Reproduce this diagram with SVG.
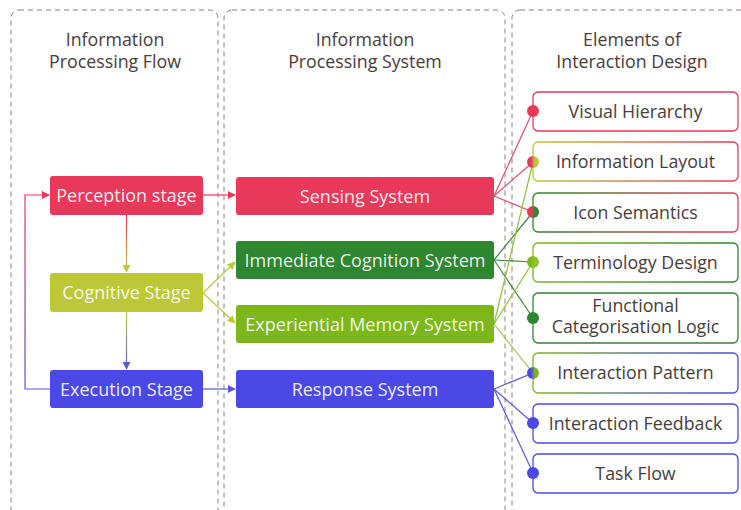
<svg xmlns="http://www.w3.org/2000/svg" width="741" height="510" viewBox="0 0 741 510">
  <defs>
    <style>
      .lane{fill:none;stroke:#8c8282;stroke-width:1;stroke-dasharray:5 4}
      .title{font-family:"Open Sans","Noto Sans","Liberation Sans",sans-serif;font-size:17.8px;fill:#4a3c3c;text-anchor:middle}
      .nl{font-family:"Open Sans","Noto Sans","Liberation Sans",sans-serif;font-size:18px;fill:#fff;fill-opacity:0.9;text-anchor:middle}
      .el{font-family:"Open Sans","Noto Sans","Liberation Sans",sans-serif;font-size:17.8px;fill:#4a3c3c;text-anchor:middle}
      .box{fill:#fff;stroke-width:1.3}
      .lk{fill:none;stroke-width:1.2}
      .pink{fill:#e8395b}
      .ygreen{fill:#bcc83a}
      .dgreen{fill:#2f8631}
      .lgreen{fill:#7db71b}
      .blue{fill:#4b49e6}
    </style>
    <marker id="arPink" viewBox="0 0 10 10" refX="9" refY="5" markerWidth="8" markerHeight="8" markerUnits="userSpaceOnUse" orient="auto"><path d="M0,0 L10,5 L0,10 z" fill="#e8395b"/></marker>
    <marker id="arYg" viewBox="0 0 10 10" refX="9" refY="5" markerWidth="8" markerHeight="8" markerUnits="userSpaceOnUse" orient="auto"><path d="M0,0 L10,5 L0,10 z" fill="#bcc83a"/></marker>
    <marker id="arBlue" viewBox="0 0 10 10" refX="9" refY="5" markerWidth="8" markerHeight="8" markerUnits="userSpaceOnUse" orient="auto"><path d="M0,0 L10,5 L0,10 z" fill="#5a56d8"/></marker>
    <linearGradient id="gPY" gradientUnits="userSpaceOnUse" x1="0" y1="215" x2="0" y2="273"><stop offset="0" stop-color="#e8395b"/><stop offset="1" stop-color="#bcc83a"/></linearGradient>
    <linearGradient id="gYB" gradientUnits="userSpaceOnUse" x1="0" y1="312" x2="0" y2="370"><stop offset="0" stop-color="#bcc83a"/><stop offset="1" stop-color="#5a56d8"/></linearGradient>
    <linearGradient id="gLoop" gradientUnits="userSpaceOnUse" x1="0" y1="389" x2="0" y2="195"><stop offset="0" stop-color="#5a56d8"/><stop offset="1" stop-color="#e8395b"/></linearGradient>
    <!-- two-tone dots -->
    <linearGradient id="dPY"><stop offset="0.35" stop-color="#e8395b"/><stop offset="0.65" stop-color="#bcc83a"/></linearGradient>
    <linearGradient id="dPG"><stop offset="0.35" stop-color="#e8395b"/><stop offset="0.65" stop-color="#2f8631"/></linearGradient>
    <linearGradient id="dGL"><stop offset="0.35" stop-color="#7db71b"/><stop offset="0.65" stop-color="#8fc42a"/></linearGradient>
    <linearGradient id="dBL"><stop offset="0.35" stop-color="#4b49e6"/><stop offset="0.65" stop-color="#7db71b"/></linearGradient>
    <!-- two-tone box borders -->
    <linearGradient id="bYP"><stop offset="0" stop-color="#bcc83a"/><stop offset="1" stop-color="#e8395b"/></linearGradient>
    <linearGradient id="bGP"><stop offset="0" stop-color="#2f8631"/><stop offset="1" stop-color="#e8395b"/></linearGradient>
    <linearGradient id="bLG"><stop offset="0" stop-color="#7db71b"/><stop offset="1" stop-color="#2f8631"/></linearGradient>
    <linearGradient id="bLB"><stop offset="0" stop-color="#7db71b"/><stop offset="1" stop-color="#4b49e6"/></linearGradient>
  </defs>

  <rect width="741" height="510" fill="#fff"/>

  <!-- swimlanes -->
  <g id="lanes">
    <rect class="lane" x="11" y="10" width="207" height="530" rx="8"/>
    <rect class="lane" x="224" y="10" width="281" height="530" rx="8"/>
    <rect class="lane" x="512" y="10" width="240" height="530" rx="8"/>
    <text class="title" x="115" y="46">Information</text>
    <text class="title" x="115" y="68">Processing Flow</text>
    <text class="title" x="365" y="46">Information</text>
    <text class="title" x="365" y="68">Processing System</text>
    <text class="title" x="632" y="46">Elements of</text>
    <text class="title" x="632" y="68">Interaction Design</text>
  </g>

  <!-- connectors -->
  <g id="connectors">
    <line class="lk" x1="126.5" y1="215" x2="126.5" y2="272" stroke="url(#gPY)" marker-end="url(#arYg)"/>
    <line class="lk" x1="126.5" y1="312" x2="126.5" y2="369" stroke="url(#gYB)" marker-end="url(#arBlue)"/>
    <polyline class="lk" points="50,389 25,389 25,195 49,195" stroke="url(#gLoop)" marker-end="url(#arPink)"/>
    <line class="lk" x1="203" y1="195" x2="235" y2="195" stroke="#e8395b" marker-end="url(#arPink)"/>
    <line class="lk" x1="203" y1="293" x2="235" y2="262" stroke="#bcc83a" marker-end="url(#arYg)"/>
    <line class="lk" x1="203" y1="293" x2="235" y2="323" stroke="#bcc83a" marker-end="url(#arYg)"/>
    <line class="lk" x1="203" y1="389" x2="235" y2="389" stroke="#5a56d8" marker-end="url(#arBlue)"/>

    <!-- sensing system -->
    <line class="lk" x1="494" y1="196" x2="533" y2="111" stroke="#e0506e"/>
    <line class="lk" x1="494" y1="196" x2="533" y2="162" stroke="#e0506e"/>
    <line class="lk" x1="494" y1="196" x2="533" y2="212" stroke="#e0506e"/>
    <!-- immediate cognition system -->
    <line class="lk" x1="494" y1="260" x2="533" y2="212" stroke="#3e8a3e"/>
    <line class="lk" x1="494" y1="260" x2="533" y2="262" stroke="#3e8a3e"/>
    <line class="lk" x1="494" y1="260" x2="533" y2="318" stroke="#3e8a3e"/>
    <!-- experiential memory system -->
    <line class="lk" x1="494" y1="324" x2="533" y2="162" stroke="#90c03a"/>
    <line class="lk" x1="494" y1="324" x2="533" y2="262" stroke="#90c03a"/>
    <line class="lk" x1="494" y1="324" x2="533" y2="373" stroke="#9cc050"/>
    <!-- response system -->
    <line class="lk" x1="494" y1="389" x2="533" y2="373" stroke="#5a56d8"/>
    <line class="lk" x1="494" y1="389" x2="533" y2="423" stroke="#5a56d8"/>
    <line class="lk" x1="494" y1="389" x2="533" y2="473" stroke="#5a56d8"/>
  </g>

  <!-- process stages -->
  <g id="perception"><rect class="pink" x="50" y="176" width="153" height="39" rx="3"/><text class="nl" x="126.5" y="202">Perception stage</text></g>
  <g id="cognitive"><rect class="ygreen" x="50" y="273" width="153" height="39" rx="3"/><text class="nl" x="126.5" y="299">Cognitive Stage</text></g>
  <g id="execution"><rect class="blue" x="50" y="370" width="153" height="38" rx="3"/><text class="nl" x="126.5" y="395.5">Execution Stage</text></g>

  <!-- processing systems -->
  <g id="sensing"><rect class="pink" x="236" y="177" width="258" height="38" rx="3"/><text class="nl" x="365" y="202.5">Sensing System</text></g>
  <g id="immediate"><rect class="dgreen" x="236" y="241" width="258" height="38" rx="3"/><text class="nl" x="365" y="266.5">Immediate Cognition System</text></g>
  <g id="experiential"><rect class="lgreen" x="236" y="305" width="258" height="38" rx="3"/><text class="nl" x="365" y="330.5">Experiential Memory System</text></g>
  <g id="response"><rect class="blue" x="236" y="370" width="258" height="38" rx="3"/><text class="nl" x="365" y="395.5">Response System</text></g>

  <!-- interaction design elements -->
  <g id="visual-hierarchy"><rect class="box" x="533" y="92" width="205" height="39" rx="5" stroke="#e8395b"/><circle cx="533" cy="111" r="6" fill="#e8395b"/><text class="el" x="635.5" y="117.5">Visual Hierarchy</text></g>
  <g id="information-layout"><rect class="box" x="533" y="142" width="205" height="39" rx="5" stroke="url(#bYP)"/><circle cx="533" cy="162" r="6" fill="url(#dPY)"/><text class="el" x="635.5" y="168">Information Layout</text></g>
  <g id="icon-semantics"><rect class="box" x="533" y="193" width="205" height="39" rx="5" stroke="url(#bGP)"/><circle cx="533" cy="212" r="6" fill="url(#dPG)"/><text class="el" x="635.5" y="218.5">Icon Semantics</text></g>
  <g id="terminology-design"><rect class="box" x="533" y="243" width="205" height="39" rx="5" stroke="url(#bLG)"/><circle cx="533" cy="262" r="6" fill="url(#dGL)"/><text class="el" x="635.5" y="268.5">Terminology Design</text></g>
  <g id="functional-logic"><rect class="box" x="533" y="293" width="205" height="50" rx="5" stroke="#2f8631"/><circle cx="533" cy="318" r="6" fill="#2f8631"/><text class="el" x="635.5" y="312">Functional</text><text class="el" x="635.5" y="333">Categorisation Logic</text></g>
  <g id="interaction-pattern"><rect class="box" x="533" y="353" width="205" height="40" rx="5" stroke="url(#bLB)"/><circle cx="533" cy="373" r="6" fill="url(#dBL)"/><text class="el" x="635.5" y="379">Interaction Pattern</text></g>
  <g id="interaction-feedback"><rect class="box" x="533" y="404" width="205" height="39" rx="5" stroke="#4b49e6"/><circle cx="533" cy="423" r="6" fill="#4b49e6"/><text class="el" x="635.5" y="429.5">Interaction Feedback</text></g>
  <g id="task-flow"><rect class="box" x="533" y="454" width="205" height="39" rx="5" stroke="#4b49e6"/><circle cx="533" cy="473" r="6" fill="#4b49e6"/><text class="el" x="635.5" y="479.5">Task Flow</text></g>
</svg>
